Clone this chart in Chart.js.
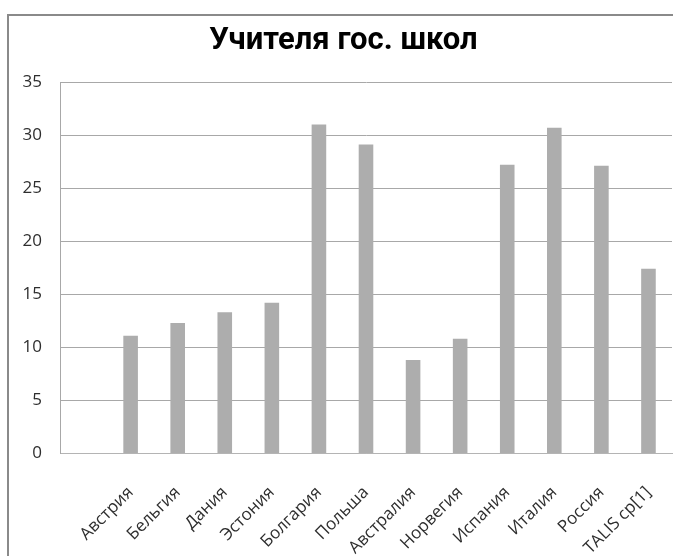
<!DOCTYPE html>
<html lang="ru">
<head>
<meta charset="utf-8">
<title>Учителя гос. школ</title>
<script src="https://cdn.jsdelivr.net/npm/chart.js@4.4.1/dist/chart.umd.min.js"></script>
<style>
  html, body { margin: 0; padding: 0; background: #ffffff; }
  #wrap { position: relative; width: 673px; height: 556px; }
</style>
</head>
<body>
<div id="wrap"><canvas id="chart" width="673" height="556"></canvas></div>
<script>
// Chart content
const chartTitle = 'Учителя гос. школ';
const countries = ['Австрия', 'Бельгия', 'Дания', 'Эстония', 'Болгария', 'Польша',
                   'Австралия', 'Норвегия', 'Испания', 'Италия', 'Россия', 'TALIS ср[1]'];
const teacherValues = [11.1, 12.3, 13.3, 14.2, 31.0, 29.1, 8.8, 10.8, 27.2, 30.7, 27.1, 17.4];
const yTicks = [0, 5, 10, 15, 20, 25, 30, 35];

// The category axis begins with one empty slot before the first country
const labels = [''].concat(countries);
const values = [null].concat(teacherValues);

const textColor = '#2e2e2e';
const lineColor = '#a8a8a8';

// Outer frame of the chart box and the centred title
const frameAndTitle = {
  id: 'frameAndTitle',
  beforeDraw(chart) {
    const ctx = chart.ctx;
    ctx.save();
    ctx.fillStyle = '#ffffff';
    ctx.fillRect(0, 0, chart.width, chart.height);
    ctx.strokeStyle = '#8a8a8a';
    ctx.lineWidth = 2;
    ctx.beginPath();
    ctx.moveTo(8, chart.height + 2);
    ctx.lineTo(8, 15);
    ctx.lineTo(chart.width + 2, 15);
    ctx.stroke();
    ctx.restore();
  },
  afterDraw(chart) {
    const ctx = chart.ctx;
    ctx.save();
    ctx.fillStyle = '#000000';
    ctx.font = 'bold 31px Roboto, "Open Sans", sans-serif';
    ctx.textAlign = 'center';
    ctx.textBaseline = 'alphabetic';
    ctx.fillText(chartTitle, 343.5, 49);
    ctx.restore();
  }
};

new Chart(document.getElementById('chart'), {
  type: 'bar',
  data: {
    labels: labels,
    datasets: [{
      data: values,
      backgroundColor: '#adadad',
      borderWidth: 0,
      categoryPercentage: 1,
      barPercentage: 0.31
    }]
  },
  options: {
    responsive: false,
    animation: false,
    events: [],
    layout: { padding: { top: 82, right: 1, bottom: 0, left: 0 } },
    plugins: {
      legend: { display: false },
      title: { display: false },
      tooltip: { enabled: false }
    },
    scales: {
      x: {
        grid: { display: false, drawTicks: false },
        border: { display: true, color: '#b4b4b4', width: 1 },
        ticks: {
          autoSkip: false,
          maxRotation: 45,
          minRotation: 45,
          padding: 29,
          color: textColor,
          font: { family: '"Open Sans", sans-serif', size: 17 }
        },
        afterFit(scale) {
          scale.height = 102.5;
          scale.paddingLeft = 0;
          scale.paddingRight = 0;
        }
      },
      y: {
        min: 0,
        max: 35,
        afterBuildTicks(scale) { scale.ticks = yTicks.map(v => ({ value: v })); },
        grid: { color: lineColor, lineWidth: 1, drawTicks: false },
        border: { display: true, color: lineColor, width: 1 },
        ticks: {
          padding: 18,
          color: textColor,
          font: { family: '"Open Sans", sans-serif', size: 17 }
        },
        afterFit(scale) { scale.width = 60; }
      }
    }
  },
  plugins: [frameAndTitle]
});
</script>
</body>
</html>
